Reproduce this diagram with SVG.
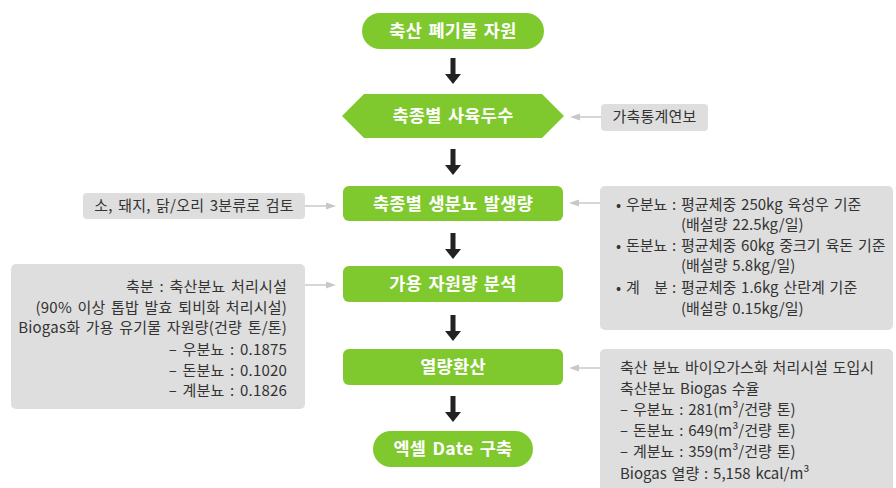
<svg xmlns="http://www.w3.org/2000/svg" width="896" height="488" viewBox="0 0 896 488">
<style>
.node{fill:#7fc92f}
.nt{font-family:"Noto Sans CJK KR","Noto Sans",sans-serif;font-size:17.5px;font-weight:bold;fill:#fff;text-anchor:middle;letter-spacing:0.3px;word-spacing:2px}
.box{fill:#dedede}
.bt{font-family:"Noto Sans CJK KR","Noto Sans",sans-serif;font-size:15px;fill:#333;letter-spacing:0.2px;word-spacing:2px}
.tight{letter-spacing:0px;word-spacing:1.5px}
.conn{stroke:#c8c8c8;stroke-width:1.5;fill:none}
.ah{fill:#c8c8c8}
.da{fill:#222}
</style>
<rect width="896" height="488" fill="#fff"/>
<g id="node1"><rect class="node" x="362" y="13" width="182" height="36" rx="18"/><text class="nt" x="453" y="37">축산 폐기물 자원</text></g>
<g id="node2"><polygon class="node" points="342,116 364,94 542,94 564,116 542,138 364,138"/><text class="nt" x="453" y="122">축종별 사육두수</text></g>
<g id="node3"><rect class="node" x="343" y="186" width="220" height="35" rx="6"/><text class="nt" x="453" y="209.5">축종별 생분뇨 발생량</text></g>
<g id="node4"><rect class="node" x="343" y="266" width="220" height="36" rx="6"/><text class="nt" x="453" y="290">가용 자원량 분석</text></g>
<g id="node5"><rect class="node" x="343" y="349" width="220" height="36" rx="6"/><text class="nt" x="453" y="373">열량환산</text></g>
<g id="node6"><rect class="node" x="373" y="431" width="160" height="36" rx="18"/><text class="nt" x="453" y="455">엑셀 Date 구축</text></g>
<g id="note1"><rect class="box" x="601" y="104" width="107" height="27" rx="4"/><text class="bt" x="654.5" y="122" text-anchor="middle">가축통계연보</text></g>
<g id="note2"><rect class="box" x="83" y="193" width="222" height="26" rx="4"/><text class="bt" x="194" y="211" text-anchor="middle">소, 돼지, 닭/오리 3분류로 검토</text></g>
<g id="note3"><rect class="box" x="600" y="186" width="293" height="144" rx="5"/>
<text class="bt tight"><tspan x="616" y="210">• 우분뇨</tspan><tspan x="672" y="210">: 평균체중 250kg 육성우 기준</tspan><tspan x="681" y="230">(배설량 22.5kg/일)</tspan><tspan x="616" y="251">• 돈분뇨</tspan><tspan x="672" y="251">: 평균체중 60kg 중크기 육돈 기준</tspan><tspan x="681" y="271">(배설량 5.8kg/일)</tspan><tspan x="616" y="293">• 계</tspan><tspan x="654" y="293">분</tspan><tspan x="672" y="293">: 평균체중 1.6kg 산란계 기준</tspan><tspan x="681" y="314">(배설량 0.15kg/일)</tspan></text></g>
<g id="note4"><rect class="box" x="11" y="264" width="294" height="145" rx="5"/>
<text class="bt" text-anchor="end"><tspan x="287" y="292">축분 : 축산분뇨 처리시설</tspan><tspan x="287" y="313">(90% 이상 톱밥 발효 퇴비화 처리시설)</tspan><tspan x="287" y="333">Biogas화 가용 유기물 자원량(건량 톤/톤)</tspan><tspan x="287" y="355">– 우분뇨 : 0.1875</tspan><tspan x="287" y="376">– 돈분뇨 : 0.1020</tspan><tspan x="287" y="396">– 계분뇨 : 0.1826</tspan></text></g>
<g id="note5"><rect class="box" x="600" y="349" width="293" height="145" rx="5"/>
<text class="bt tight"><tspan x="620" y="373">축산 분뇨 바이오가스화 처리시설 도입시</tspan><tspan x="620" y="394">축산분뇨 Biogas 수율</tspan><tspan x="620" y="415">– 우분뇨 : 281(m³/건량 톤)</tspan><tspan x="620" y="436">– 돈분뇨 : 649(m³/건량 톤)</tspan><tspan x="620" y="457">– 계분뇨 : 359(m³/건량 톤)</tspan><tspan x="620" y="479">Biogas 열량 : 5,158 kcal/m³</tspan></text></g>
<g id="connectors">
<rect class="da" x="450.5" y="58" width="5" height="16"/><polygon class="da" points="445,74 461,74 453,84"/>
<rect class="da" x="450.5" y="149" width="5" height="16"/><polygon class="da" points="445,165 461,165 453,175"/>
<rect class="da" x="450.5" y="233" width="5" height="16"/><polygon class="da" points="445,249 461,249 453,259"/>
<rect class="da" x="450.5" y="315" width="5" height="16"/><polygon class="da" points="445,331 461,331 453,341"/>
<rect class="da" x="450.5" y="396" width="5" height="16"/><polygon class="da" points="445,412 461,412 453,422"/>
<line class="conn" x1="601" y1="117" x2="578" y2="117"/><polygon class="ah" points="570,117 580,113.5 580,120.5"/>
<line class="conn" x1="305" y1="206" x2="328" y2="206"/><polygon class="ah" points="336,206 326,202.5 326,209.5"/>
<line class="conn" x1="600" y1="203" x2="577" y2="203"/><polygon class="ah" points="569,203 579,199.5 579,206.5"/>
<line class="conn" x1="305" y1="285" x2="328" y2="285"/><polygon class="ah" points="336,285 326,281.5 326,288.5"/>
<line class="conn" x1="600" y1="368" x2="577" y2="368"/><polygon class="ah" points="569,368 579,364.5 579,371.5"/>
</g>
</svg>
